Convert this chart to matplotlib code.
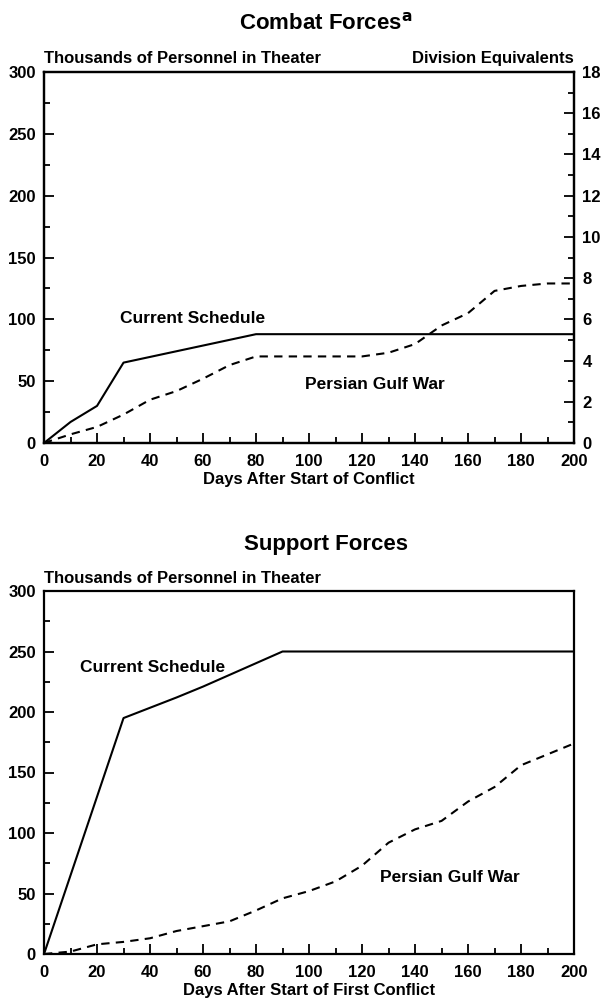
import matplotlib
matplotlib.use("Agg")
import matplotlib.pyplot as plt
from matplotlib.ticker import MultipleLocator

plt.rcParams['font.family'] = ['Liberation Sans', 'DejaVu Sans']
plt.rcParams['font.weight'] = 'bold'

# ---- data ----
combat_cs_days = [0, 10, 20, 30, 80, 200]
combat_cs_vals = [0, 17, 30, 65, 88, 88]
combat_pgw_days = [0, 10, 20, 30, 40, 50, 60, 70, 80, 90, 100, 110, 120, 130, 140, 150, 160, 170, 180, 190, 200]
combat_pgw_vals = [0, 7, 13, 23, 35, 42, 52, 63, 70, 70, 70, 70, 70, 73, 80, 95, 105, 123, 127, 129, 129]

support_cs_days = [0, 30, 50, 60, 90, 200]
support_cs_vals = [0, 195, 212, 221, 250, 250]
support_pgw_days = [0, 10, 20, 30, 40, 50, 60, 70, 80, 90, 100, 110, 120, 130, 140, 150, 160, 170, 180, 190, 200]
support_pgw_vals = [0, 2, 8, 10, 13, 19, 23, 27, 36, 46, 52, 60, 73, 92, 103, 110, 126, 138, 156, 165, 174]

x_ticks = [0, 20, 40, 60, 80, 100, 120, 140, 160, 180, 200]
y_ticks = [0, 50, 100, 150, 200, 250, 300]
div_ticks = [0, 2, 4, 6, 8, 10, 12, 14, 16, 18]

TICK_FS = 12
LABEL_FS = 12
TEXT_FS = 12.5
TITLE_FS = 16

fig = plt.figure(figsize=(6.03, 10.0), dpi=100)

def style_axes(ax):
    ax.set_xlim(0, 200)
    ax.set_ylim(0, 300)
    ax.set_xticks(x_ticks)
    ax.set_yticks(y_ticks)
    ax.xaxis.set_minor_locator(MultipleLocator(10))
    ax.yaxis.set_minor_locator(MultipleLocator(25))
    ax.tick_params(which='major', direction='in', length=7, width=1.3, labelsize=TICK_FS)
    ax.tick_params(which='minor', direction='in', length=4, width=1.3)
    ax.tick_params(axis='x', which='major', pad=8)
    ax.tick_params(axis='y', which='major', pad=6)
    for lab in ax.get_xticklabels() + ax.get_yticklabels():
        lab.set_fontweight('bold')
    for s in ax.spines.values():
        s.set_linewidth(1.6)

# ---- top chart ----
ax1 = fig.add_axes([0.073, 0.557, 0.879, 0.371])
style_axes(ax1)
ax1.plot(combat_cs_days, combat_cs_vals, color='black', lw=1.5)
ax1.plot(combat_pgw_days, combat_pgw_vals, color='black', lw=1.5, dashes=(4, 3))
ax1.text(56, 101, 'Current Schedule', ha='center', va='center', fontsize=TEXT_FS, fontweight='bold')
ax1.text(125, 47, 'Persian Gulf War', ha='center', va='center', fontsize=TEXT_FS, fontweight='bold')
ax1.set_xlabel('Days After Start of Conflict', fontsize=LABEL_FS, fontweight='bold', labelpad=2)

ax1r = ax1.twinx()
ax1r.set_ylim(0, 18)
ax1r.set_yticks(div_ticks)
ax1r.yaxis.set_minor_locator(MultipleLocator(1))
ax1r.tick_params(which='major', direction='in', length=7, width=1.3, labelsize=TICK_FS, pad=6)
ax1r.tick_params(which='minor', direction='in', length=4, width=1.3)
for lab in ax1r.get_yticklabels():
    lab.set_fontweight('bold')
for s in ax1r.spines.values():
    s.set_linewidth(1.6)

fig.text(0.54, 0.971, r'Combat Forces$^{\mathbf{a}}$', ha='center', va='baseline', fontsize=TITLE_FS, fontweight='bold')
fig.text(0.073, 0.937, 'Thousands of Personnel in Theater', ha='left', va='baseline', fontsize=LABEL_FS, fontweight='bold')
fig.text(0.951, 0.937, 'Division Equivalents', ha='right', va='baseline', fontsize=LABEL_FS, fontweight='bold')

# ---- bottom chart ----
ax2 = fig.add_axes([0.073, 0.046, 0.879, 0.363])
style_axes(ax2)
ax2.plot(support_cs_days, support_cs_vals, color='black', lw=1.5)
ax2.plot(support_pgw_days, support_pgw_vals, color='black', lw=1.5, dashes=(4, 3))
ax2.text(41, 237, 'Current Schedule', ha='center', va='center', fontsize=TEXT_FS, fontweight='bold')
ax2.text(153, 63, 'Persian Gulf War', ha='center', va='center', fontsize=TEXT_FS, fontweight='bold')
ax2.set_xlabel('Days After Start of First Conflict', fontsize=LABEL_FS, fontweight='bold', labelpad=2)

fig.text(0.54, 0.45, 'Support Forces', ha='center', va='baseline', fontsize=TITLE_FS, fontweight='bold')
fig.text(0.073, 0.417, 'Thousands of Personnel in Theater', ha='left', va='baseline', fontsize=LABEL_FS, fontweight='bold')

fig.savefig('out.png', dpi=100)
